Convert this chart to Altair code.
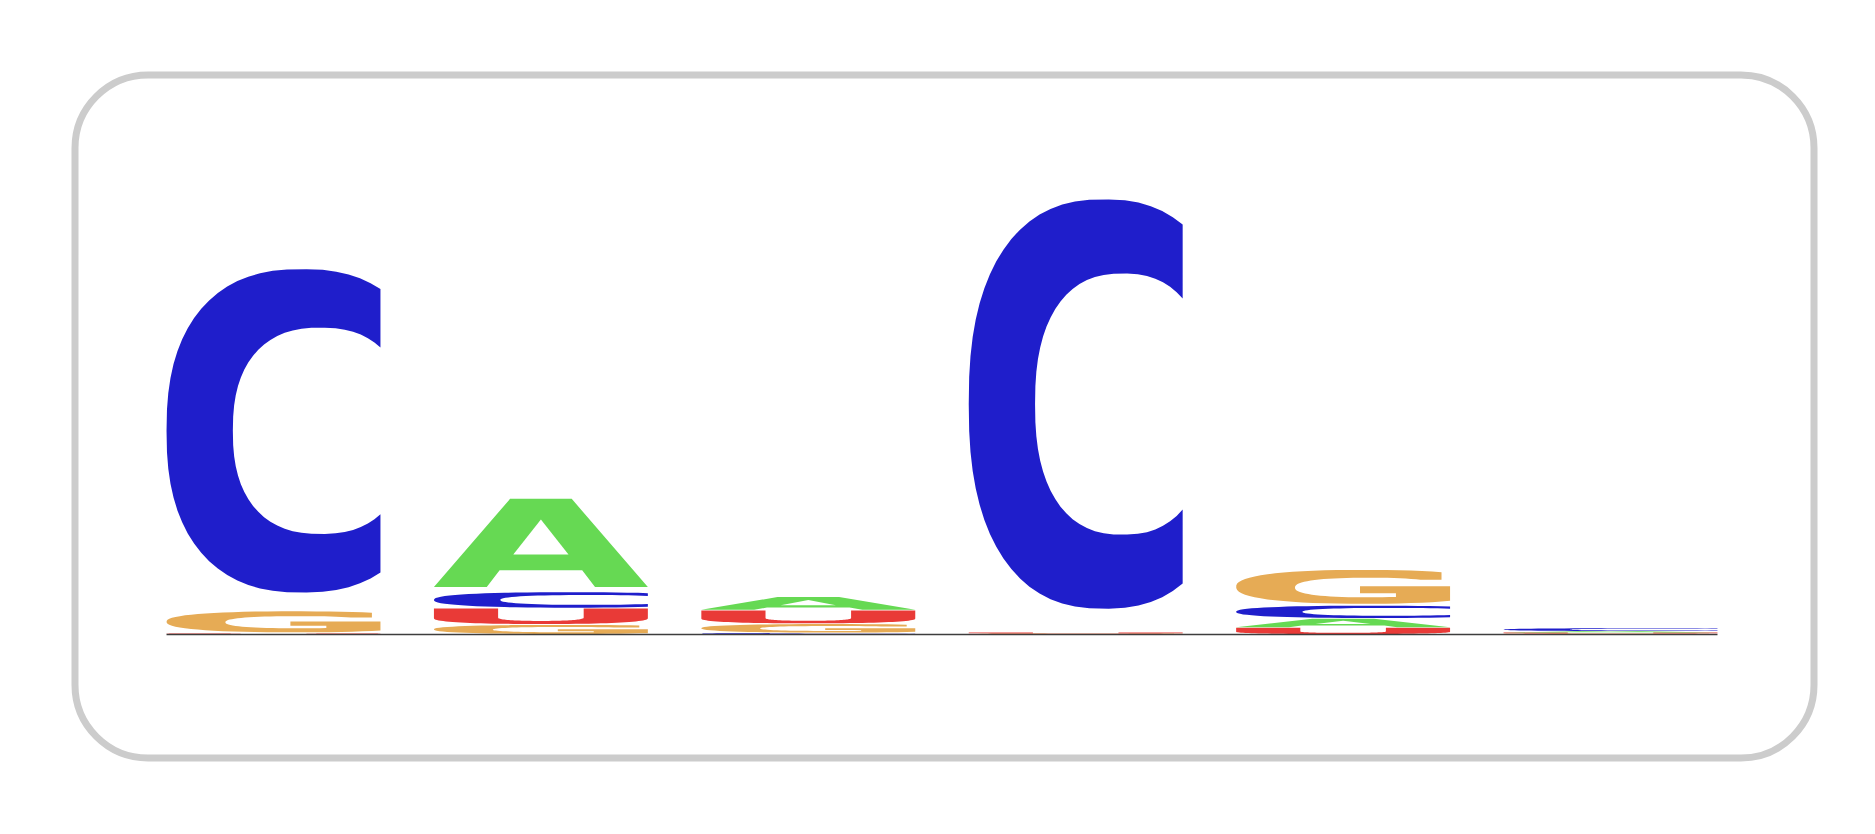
import math
import altair as alt
import pandas as pd

# ---- data: information content (bits) per base at each motif position ----
positions = [1, 2, 3, 4, 5, 6]
letters = ["A", "C", "G", "U"]
bits_A = [0.002, 0.389, 0.0565, 0.002, 0.0375, 0.006]
bits_C = [1.426, 0.0683, 0.006, 1.805, 0.0542, 0.012]
bits_G = [0.0925, 0.040, 0.0375, 0.002, 0.149, 0.004]
bits_U = [0.002, 0.0680, 0.0560, 0.004, 0.0283, 0.004]
letter_colors = ["#66d953", "#1f1ecb", "#e6ab55", "#e93a37"]

# ---- glyph outlines in a unit box (u: 0..1 left->right, g: 0..1 bottom->top) ----
def se(cx, cy, a, b, t, n=2.4):
    c, s = math.cos(t), math.sin(t)
    x = cx + a * math.copysign(abs(c) ** (2 / n), c)
    y = cy + b * math.copysign(abs(s) ** (2 / n), s)
    return (x, y)

def arc(cx, cy, a, b, t0, t1, steps=48, n=2.4):
    return [se(cx, cy, a, b, t0 + (t1 - t0) * k / steps, n) for k in range(steps + 1)]

def angle_for_u(cx, a, u, n=2.4):
    return math.acos(max(-1.0, min(1.0, ((u - cx) / a) ** (n / 2))))

def glyph_C():
    t0 = angle_for_u(0.633, 0.633, 1.0)
    outer = arc(0.633, 0.5, 0.633, 0.5, t0, 2 * math.pi - t0)
    t1 = angle_for_u(0.72, 0.41, 1.0)
    inner = arc(0.72, 0.5, 0.41, 0.319, 2 * math.pi - t1, t1)
    return [("body", outer + inner)]

def glyph_G():
    t0 = angle_for_u(0.6, 0.6, 0.96)
    te = 2 * math.pi - angle_for_u(0.6, 0.6, 1.0)
    outer = arc(0.6, 0.5, 0.6, 0.5, t0, te)
    bar = [(1.0, 0.52), (0.579, 0.52), (0.579, 0.31), (0.747, 0.31)]
    ts = -math.acos((0.127 / 0.345) ** 1.2)
    tsin = math.asin(((0.71 - 0.48) / 0.29) ** 1.2)
    inner = arc(0.62, 0.48, 0.345, 0.29, ts, tsin - 2 * math.pi)
    return [("body", outer + bar + inner + [(0.96, 0.71)])]

def glyph_A():
    outer = [(0.0, 0.0), (0.356, 1.0), (0.644, 1.0), (1.0, 0.0), (0.753, 0.0),
             (0.693, 0.19), (0.307, 0.19), (0.247, 0.0)]
    hole = [(0.5, 0.766), (0.371, 0.368), (0.629, 0.368)]
    return [("body", outer), ("hole", hole)]

def glyph_U():
    pts = [(0.0, 1.0)]
    pts += arc(0.5, 0.38, 0.5, 0.38, math.pi, 2 * math.pi)
    pts += [(1.0, 1.0), (0.70, 1.0)]
    pts += arc(0.5, 0.42, 0.2, 0.22, 2 * math.pi, math.pi)
    pts += [(0.30, 1.0)]
    return [("body", pts)]

glyphs = {"A": glyph_A(), "C": glyph_C(), "G": glyph_G(), "U": glyph_U()}

# ---- build the stacked logo table ----
table = {"A": bits_A, "C": bits_C, "G": bits_G, "U": bits_U}
PAD = 0.055      # gap under each glyph, as a fraction of its box
HALF = 0.4       # half width of a column, in position units
body_rows, hole_rows = [], []
for pi, pos in enumerate(positions):
    col = sorted(letters, key=lambda L: table[L][pi])
    y0 = 0.0
    for L in col:
        h = table[L][pi]
        for part, pts in glyphs[L]:
            gid = f"{pos}-{L}-{part}"
            for k, (u, g) in enumerate(pts):
                row = {"gid": gid, "k": k, "letter": L,
                       "x": pos - HALF + 2 * HALF * u,
                       "y": y0 + h * (PAD + (1 - PAD) * g)}
                (body_rows if part == "body" else hole_rows).append(row)
        y0 += h

body_df = pd.DataFrame(body_rows)
hole_df = pd.DataFrame(hole_rows)
base_df = pd.DataFrame({"x": [positions[0] - HALF], "x2": [positions[-1] + HALF], "y": [0.0]})

X = alt.X("x:Q", scale=alt.Scale(domain=[0.2577, 6.761], nice=False, zero=False), axis=None)
Y = alt.Y("y:Q", scale=alt.Scale(domain=[-0.5146, 2.3313], nice=False, zero=False), axis=None)

body = alt.Chart(body_df).mark_line(strokeWidth=0, strokeOpacity=0).encode(
    x=X, y=Y,
    fill=alt.Fill("letter:N", scale=alt.Scale(domain=letters, range=letter_colors), legend=None),
    detail="gid:N",
    order="k:Q",
)

holes = alt.Chart(hole_df).mark_line(strokeWidth=0, strokeOpacity=0).encode(
    x=X, y=Y, fill=alt.value("white"), detail="gid:N", order="k:Q",
)

baseline = alt.Chart(base_df).mark_rule(color="#3d3d3d", strokeWidth=1.5).encode(
    x=X, x2="x2:Q", y=Y,
)

chart = alt.layer(body, holes, baseline).properties(
    width=1739, height=683,
    padding={"left": 75, "top": 75, "right": 61, "bottom": 76},
    autosize=alt.AutoSizeParams(type="none"),
    background="white",
).configure_view(stroke="#cccccc", strokeWidth=7, cornerRadius=73)

chart.save("out.html", embed_options={"renderer": "svg", "actions": False})
